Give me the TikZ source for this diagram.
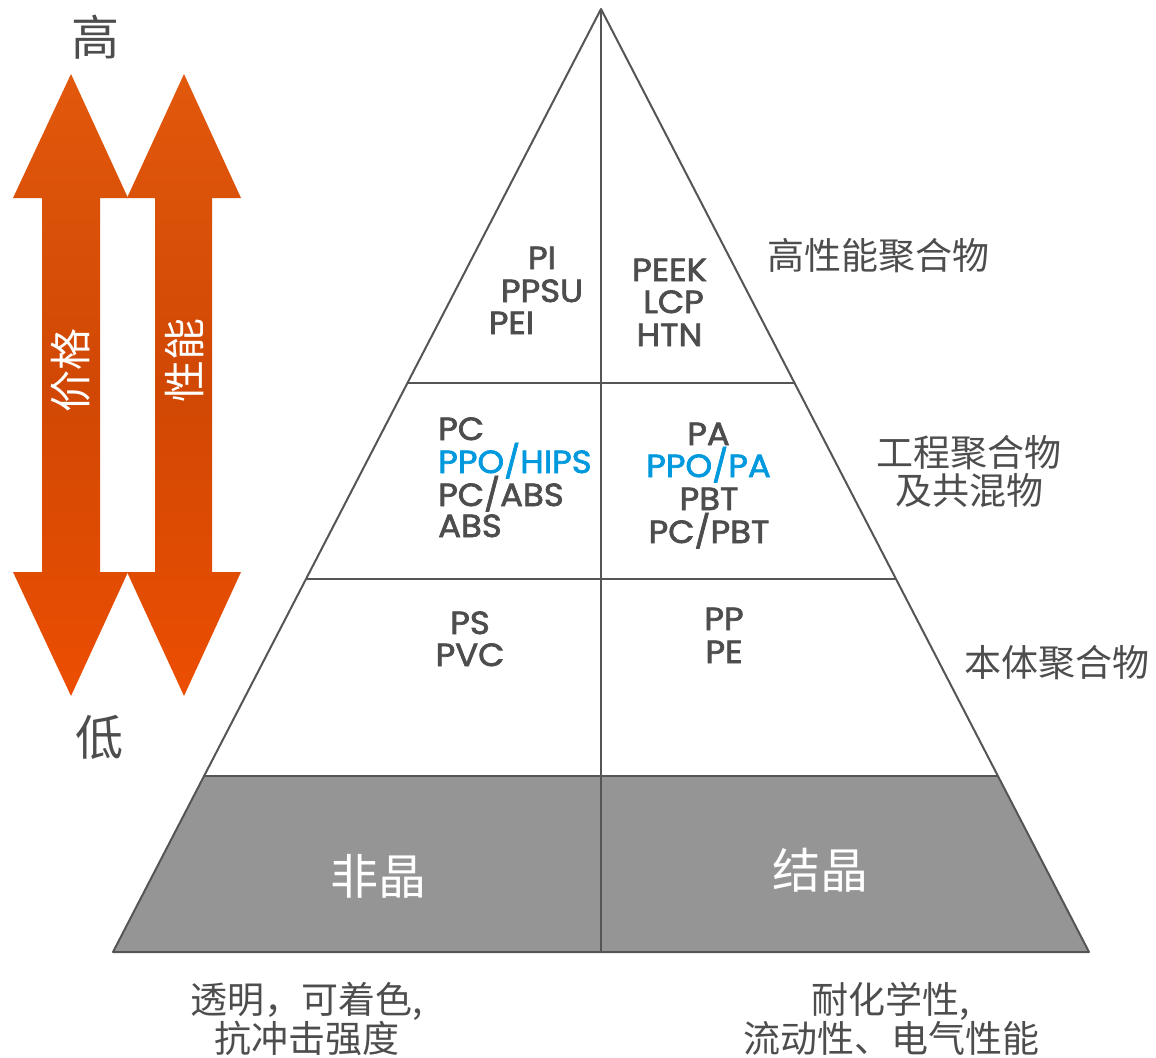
\documentclass[tikz,border=0pt]{standalone}
\usepackage{fontspec}
\setmainfont{Poppins}[FakeBold=2.2,FakeStretch=1.06]
\newfontfamily\cjk{Noto Sans CJK SC}
\definecolor{linegray}{RGB}{85,85,85}
\definecolor{txtgray}{RGB}{77,77,77}
\definecolor{basegray}{RGB}{149,149,149}
\definecolor{ppblue}{RGB}{0,153,221}
\definecolor{orTop}{RGB}{226,88,12}
\definecolor{orMid}{RGB}{208,72,4}
\definecolor{orBot}{RGB}{236,78,2}
\begin{document}
\begin{tikzpicture}[x=1pt,y=-1pt,
  pline/.style={draw=linegray,line width=2pt},
  poly/.style={font=\fontsize{32}{32}\selectfont,text=txtgray,inner sep=0pt,anchor=base},
  polyl/.style={poly,anchor=base west},
  blue/.style={text=ppblue},
  cjklab/.style={font=\cjk\fontsize{37}{37}\selectfont,text=txtgray,inner sep=0pt},
  cjkbig/.style={font=\cjk\fontsize{48}{48}\selectfont,text=txtgray,inner sep=0pt},
  cjkwhite/.style={font=\cjk\fontsize{48}{48}\selectfont,text=white,inner sep=0pt},
  cjkarrow/.style={font=\cjk\fontsize{42}{42}\selectfont,text=white,inner sep=0pt,rotate=90},
  cjkdesc/.style={font=\cjk\fontsize{37}{37}\selectfont,text=txtgray,inner sep=0pt,align=center},
  arrowshade/.style={top color=orTop,bottom color=orBot,middle color=orMid,draw=none}
]
\useasboundingbox (0,0) rectangle (1156,1057);

% double arrows
\path[arrowshade] (71,74) -- (128,198) -- (100,198) -- (100,572) -- (128,572) -- (71,696) -- (13,572) -- (42,572) -- (42,198) -- (13,198) -- cycle;
\path[arrowshade] (184,74) -- (241,198) -- (212,198) -- (212,572) -- (241,572) -- (184,696) -- (127,572) -- (155,572) -- (155,198) -- (127,198) -- cycle;
\node[cjkarrow] (price) at (71,370) {价格};
\node[cjkarrow] (perf) at (184,360) {性能};
\node[cjkbig] (high) at (95,37) {高};
\node[cjkbig] (low) at (99,737) {低};

% pyramid
\coordinate (apex) at (601,9);
\coordinate (bl) at (113,952);
\coordinate (br) at (1089,952);
\coordinate (bm) at (601,952);
\fill[basegray] (204,776) -- (998,776) -- (br) -- (bl) -- cycle;
\draw[pline,line join=round] (apex) -- (bl) -- (br) -- cycle;
\draw[pline] (apex) -- (bm);
\draw[pline] (407.5,383) -- (794.5,383);
\draw[pline] (306,579) -- (896,579);
\draw[pline] (204,776) -- (998,776);

% polymer names
\node[poly] (pi) at (542,269) {PI};
\node[poly] (ppsu) at (542,302) {PPSU};
\node[poly] (pei) at (511.5,334) {PEI};
\node[poly] (peek) at (669.5,281) {PEEK};
\node[poly] (lcp) at (673.5,313) {LCP};
\node[poly] (htn) at (669.5,346) {HTN};

\node[polyl] (pc) at (438,440) {PC};
\node[polyl,blue] (ppohips) at (438,473) {PPO/HIPS};
\node[polyl] (pcabs) at (438,506) {PC/ABS};
\node[polyl] (abs) at (438,537) {ABS};

\node[poly] (pa) at (708.5,445) {PA};
\node[poly,blue] (ppopa) at (708.5,477) {PPO/PA};
\node[poly] (pbt) at (709,510) {PBT};
\node[poly] (pcpbt) at (709,543) {PC/PBT};

\node[poly] (ps) at (470,634) {PS};
\node[poly] (pvc) at (470,666) {PVC};
\node[poly] (pp) at (724,630) {PP};
\node[poly] (pe) at (724,663) {PE};

% right labels
\node[cjklab] (hpp) at (878,256) {高性能聚合物};
\node[cjklab] (eng1) at (969,453) {工程聚合物};
\node[cjklab] (eng2) at (969,490) {及共混物};
\node[cjklab] (bulk) at (1057,663) {本体聚合物};

% base labels
\node[cjkwhite] (amorph) at (378,876) {非晶};
\node[cjkwhite] (cryst) at (820,870) {结晶};

% bottom descriptions
\node[cjkdesc] (descl) at (307,1019) {透明，可着色,\\抗冲击强度};
\node[cjkdesc] (descr) at (891,1019) {耐化学性,\\流动性、电气性能};
\end{tikzpicture}
\end{document}
